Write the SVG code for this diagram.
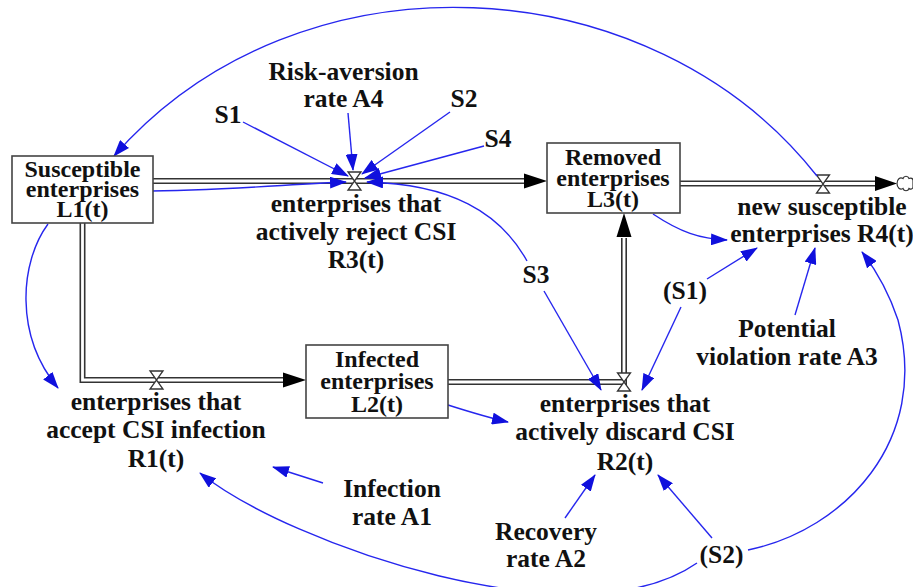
<svg xmlns="http://www.w3.org/2000/svg" width="913" height="587" viewBox="0 0 913 587">
<defs>
<style>
text{font-family:"Liberation Serif","Times New Roman",serif;font-weight:bold;font-size:25.5px;fill:#111;text-anchor:middle}
.bt{font-size:24px}
.box{fill:#fff;stroke:#444;stroke-width:1.6}
.pipeo{fill:none;stroke:#333;stroke-width:6;stroke-linejoin:miter}
.pipei{fill:none;stroke:#fff;stroke-width:2.8;stroke-linejoin:miter}
.valve{fill:#fff;stroke:#333;stroke-width:1.3}
.head{fill:#000}
.link{fill:none;stroke:#2626ee;stroke-width:1.4;marker-end:url(#ah)}
</style>
<marker id="ah" markerUnits="userSpaceOnUse" markerWidth="17" markerHeight="12" viewBox="0 0 17 12" refX="16" refY="6" orient="auto">
<path d="M0,0 L17,6 L0,12 Z" fill="#1010dd"/>
</marker>
</defs>

<g id="flows">
<polyline class="pipeo" points="153,181 526,181"/>
<polyline class="pipei" points="153,181 526,181"/>
<polygon class="head" points="524,173.5 547,181 524,188.5"/>
<polyline class="pipeo" points="680,183.5 877,183.5"/>
<polyline class="pipei" points="680,183.5 877,183.5"/>
<polygon class="head" points="875,176 897,183.5 875,191"/>
<path d="M897,183.5 c0,-4 3,-7 6,-5 c1,-3 5,-3 6,0 c2,-1 4,0 4,2 v7 c-1,2 -3,2 -4,1 c-1,3 -5,3 -6,0 c-3,2 -6,-1 -6,-5 z" fill="#fff" stroke="#333" stroke-width="1.2"/>
<polyline class="pipeo" points="82.5,223 82.5,380 285,380"/>
<polyline class="pipei" points="82.5,223 82.5,380 285,380"/>
<polygon class="head" points="283,372.5 306,380 283,387.5"/>
<polyline class="pipeo" points="448,382 624,382 624,238"/>
<polyline class="pipei" points="448,382 624,382 624,238"/>
<polygon class="head" points="616.5,237 624,213 631.5,237"/>
<path class="valve" d="M348,172 L361,172 L348,190 L361,190 Z"/>
<path class="valve" d="M816.5,175 L829.5,175 L816.5,193 L829.5,193 Z"/>
<path class="valve" d="M150,371 L163,371 L150,389 L163,389 Z"/>
<path class="valve" d="M617.5,373 L630.5,373 L617.5,391 L630.5,391 Z"/>
</g>

<g id="connectors">
<path class="link" d="M817,176 C652,-34 300,-56 114,156"/>
<path class="link" d="M243,122 L348,176"/>
<path class="link" d="M348,113 L353,170"/>
<path class="link" d="M450,112 L362,174"/>
<path class="link" d="M484,146 L365,178"/>
<path class="link" d="M527,261 C500,212 450,184 367,182"/>
<path class="link" d="M140,191 C220,191 290,184 346,182"/>
<path class="link" d="M48,224 C20,262 14,335 58,388"/>
<path class="link" d="M448,405 C470,412 490,418 508,422"/>
<path class="link" d="M544,291 L601,390"/>
<path class="link" d="M681,307 L642,390"/>
<path class="link" d="M707,279 L757,248"/>
<path class="link" d="M653,214 C680,232 700,239 727,240"/>
<path class="link" d="M795,315 L815,248"/>
<path class="link" d="M748,550 C845,530 930,440 898,320 C888,290 876,270 862,252"/>
<path class="link" d="M712,538 L658,475"/>
<path class="link" d="M565,518 L595,475"/>
<path class="link" d="M323,483 L273,467"/>
<path class="link" d="M697,563 C580,645 290,545 200,473"/>
</g>

<g id="L1"><rect class="box" x="12" y="156" width="141" height="67"/>
<text class="bt" x="82.5" y="177">Susceptible</text><text class="bt" x="82.5" y="197">enterprises</text><text class="bt" x="82.5" y="217">L1(t)</text></g>
<g id="L2"><rect class="box" x="306" y="345" width="142" height="73"/>
<text class="bt" x="377" y="367">Infected</text><text class="bt" x="377" y="389">enterprises</text><text class="bt" x="377" y="412">L2(t)</text></g>
<g id="L3"><rect class="box" x="547" y="143" width="133" height="70"/>
<text class="bt" x="613" y="165">Removed</text><text class="bt" x="613" y="186">enterprises</text><text class="bt" x="613" y="207">L3(t)</text></g>

<g id="R1"><text x="156" y="410">enterprises that</text><text x="156" y="438">accept CSI infection</text><text x="156" y="467">R1(t)</text></g>
<g id="R2"><text x="625" y="412">enterprises that</text><text x="625" y="440">actively discard CSI</text><text x="625" y="470">R2(t)</text></g>
<g id="R3"><text x="356" y="212">enterprises that</text><text x="356" y="240">actively reject CSI</text><text x="356" y="268">R3(t)</text></g>
<g id="R4"><text x="822" y="215">new susceptible</text><text x="822" y="242">enterprises R4(t)</text></g>

<g id="A1"><text x="392" y="497">Infection</text><text x="392" y="525">rate A1</text></g>
<g id="A2"><text x="546" y="540">Recovery</text><text x="546" y="567">rate A2</text></g>
<g id="A3"><text x="787" y="337">Potential</text><text x="787" y="365">violation rate A3</text></g>
<g id="A4"><text x="343.5" y="80">Risk-aversion</text><text x="343.5" y="107">rate A4</text></g>
<g id="S1"><text x="228" y="123">S1</text></g>
<g id="S2"><text x="464" y="107">S2</text></g>
<g id="S3"><text x="536" y="283">S3</text></g>
<g id="S4"><text x="498" y="147">S4</text></g>
<g id="S1b"><text x="685" y="299">(S1)</text></g>
<g id="S2b"><text x="721.5" y="563">(S2)</text></g>
</svg>
